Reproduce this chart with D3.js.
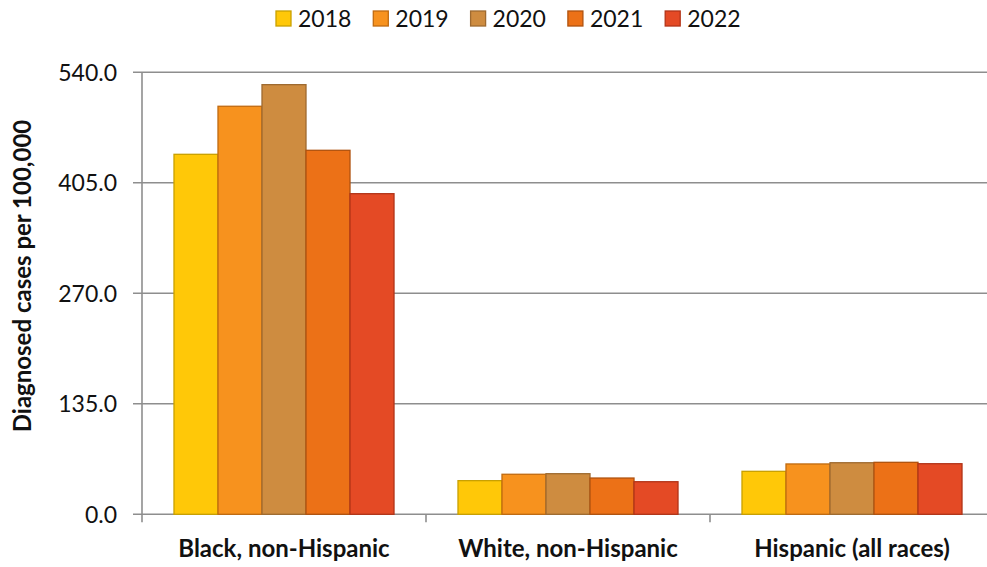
<!DOCTYPE html>
<html>
<head>
<meta charset="utf-8">
<script src="https://cdn.jsdelivr.net/npm/d3@7"></script>
<style>
body { margin: 0; background: #fff; }
svg { display: block; font-family: Lato, "Open Sans", sans-serif; }
</style>
</head>
<body>
<svg id="chart" width="987" height="567"></svg>
<script>
var categories = ["Black, non-Hispanic", "White, non-Hispanic", "Hispanic (all races)"];
var years = ["2018", "2019", "2020", "2021", "2022"];
// rates per 100,000, one array per year (Black, White, Hispanic)
var rate2018 = [439.8, 41.1, 52.5];
var rate2019 = [498.5, 48.9, 61.5];
var rate2020 = [524.9, 49.6, 63.0];
var rate2021 = [444.7, 44.3, 63.5];
var rate2022 = [391.7, 39.8, 61.8];
var yTicks = [0, 135, 270, 405, 540];

var fills = ["#FFC808", "#F7921E", "#CE8C40", "#EC7117", "#E44A25"];
var strokes = ["#C9A000", "#C06A10", "#9E6A30", "#B0520E", "#B23418"];

var seriesValues = [rate2018, rate2019, rate2020, rate2021, rate2022];
var rows = categories.map(function(c, i) {
	return { cat: c, vals: years.map(function(y, j) { return { year: y, idx: j, v: seriesValues[j][i] }; }) };
});

var svg = d3.select("#chart");
var plotLeft = 142, plotRight = 994, plotTop = 72.3, plotBottom = 514.3;

var x0 = d3.scaleBand().domain(categories).range([plotLeft, plotRight]).padding(0);
var x1 = d3.scaleBand().domain(years).range([0, x0.bandwidth()]).paddingInner(0).paddingOuter(0.727);
var y = d3.scaleLinear().domain([0, 540]).range([plotBottom, plotTop]);

// gridlines
svg.append("g").selectAll("line")
	.data(yTicks)
	.enter().append("line")
	.attr("x1", plotLeft - 9).attr("x2", plotRight)
	.attr("y1", function(d) { return y(d); })
	.attr("y2", function(d) { return y(d); })
	.attr("stroke", "#8e8e8e")
	.attr("stroke-width", 1.6);

// y axis line
svg.append("line")
	.attr("x1", plotLeft).attr("x2", plotLeft)
	.attr("y1", plotTop).attr("y2", plotBottom + 8)
	.attr("stroke", "#8e8e8e").attr("stroke-width", 1.6);

// x category ticks
svg.append("g").selectAll("line")
	.data(categories.slice(1))
	.enter().append("line")
	.attr("x1", function(d) { return x0(d); })
	.attr("x2", function(d) { return x0(d); })
	.attr("y1", plotBottom).attr("y2", plotBottom + 8)
	.attr("stroke", "#8e8e8e").attr("stroke-width", 1.6);

// y tick labels
svg.append("g").selectAll("text")
	.data(yTicks)
	.enter().append("text")
	.attr("x", 117)
	.attr("y", function(d) { return y(d); })
	.attr("dy", "0.36em")
	.attr("text-anchor", "end")
	.attr("font-size", 23)
	.attr("fill", "#111")
	.text(function(d) { return d3.format(".1f")(d); });

// bars
var groups = svg.append("g").selectAll("g")
	.data(rows)
	.enter().append("g")
	.attr("transform", function(d) { return "translate(" + x0(d.cat) + ",0)"; });

groups.selectAll("rect")
	.data(function(d) { return d.vals; })
	.enter().append("rect")
	.attr("x", function(d) { return x1(d.year); })
	.attr("width", x1.bandwidth())
	.attr("y", function(d) { return y(d.v); })
	.attr("height", function(d) { return plotBottom - y(d.v); })
	.attr("fill", function(d) { return fills[d.idx]; })
	.attr("stroke", function(d) { return strokes[d.idx]; })
	.attr("stroke-width", 1.3);

// category labels
svg.append("g").selectAll("text")
	.data(categories)
	.enter().append("text")
	.attr("x", function(d) { return x0(d) + x0.bandwidth() / 2; })
	.attr("y", 556.5)
	.attr("text-anchor", "middle")
	.attr("font-size", 24)
	.attr("font-weight", "bold")
	.attr("fill", "#111")
	.text(function(d) { return d; });

// y axis title
svg.append("text")
	.attr("transform", "translate(31,276) rotate(-90)")
	.attr("text-anchor", "middle")
	.attr("font-size", 24)
	.attr("font-weight", "bold")
	.attr("fill", "#111")
	.text("Diagnosed cases per 100,000");

// legend
var legend = svg.append("g").selectAll("g")
	.data(years)
	.enter().append("g")
	.attr("transform", function(d, i) { return "translate(" + (276 + i * 97.3) + ",11)"; });
legend.append("rect")
	.attr("width", 15).attr("height", 15)
	.attr("fill", function(d, i) { return fills[i]; })
	.attr("stroke", function(d, i) { return strokes[i]; })
	.attr("stroke-width", 1.3);
legend.append("text")
	.attr("x", 22).attr("y", 15.8)
	.attr("font-size", 23)
	.attr("fill", "#111")
	.text(function(d) { return d; });
</script>
</body>
</html>
